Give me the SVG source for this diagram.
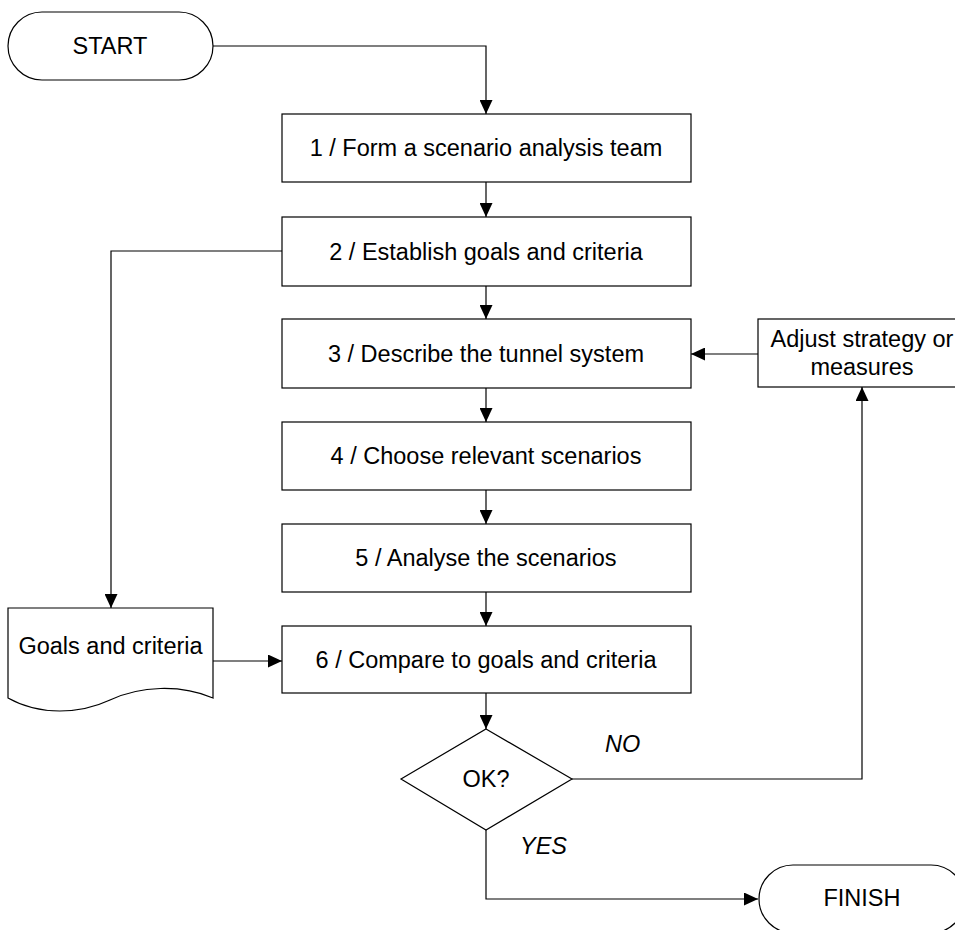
<svg xmlns="http://www.w3.org/2000/svg" width="955" height="930" viewBox="0 0 955 930">
<defs>
<style>
.s{fill:#fff;stroke:#000;stroke-width:1.2}
.c{fill:none;stroke:#000;stroke-width:1.2}
text{font-family:"Liberation Sans",Arial,sans-serif;font-size:23.5px;fill:#000;text-anchor:middle}
.i{font-style:italic;text-anchor:start}
</style>
<marker id="a" markerUnits="userSpaceOnUse" markerWidth="14" markerHeight="13" refX="14" refY="6.5" orient="auto">
<path d="M0,0 L14,6.5 L0,13 z" fill="#000"/>
</marker>
</defs>
<rect width="955" height="930" fill="#fff"/>
<g id="connectors">
<path class="c" d="M213,46 H486 V114" marker-end="url(#a)"/>
<path class="c" d="M486,182 V217" marker-end="url(#a)"/>
<path class="c" d="M486,286 V319" marker-end="url(#a)"/>
<path class="c" d="M486,388 V422" marker-end="url(#a)"/>
<path class="c" d="M486,490 V524" marker-end="url(#a)"/>
<path class="c" d="M486,592 V626" marker-end="url(#a)"/>
<path class="c" d="M486,693 V729" marker-end="url(#a)"/>
<path class="c" d="M486,830 V899 H758" marker-end="url(#a)"/>
<path class="c" d="M572,779 H862 V387" marker-end="url(#a)"/>
<path class="c" d="M758,354 H691" marker-end="url(#a)"/>
<path class="c" d="M282,251 H111 V608" marker-end="url(#a)"/>
<path class="c" d="M213,661 H282" marker-end="url(#a)"/>
<text class="i" x="605" y="752">NO</text>
<text class="i" x="520" y="854">YES</text>
</g>
<g id="start">
<rect class="s" x="8" y="12" width="205" height="68" rx="34"/>
<text x="110" y="54">START</text>
</g>
<g id="step1">
<rect class="s" x="282" y="114" width="409" height="68"/>
<text x="486" y="156">1 / Form a scenario analysis team</text>
</g>
<g id="step2">
<rect class="s" x="282" y="217" width="409" height="69"/>
<text x="486" y="259.5">2 / Establish goals and criteria</text>
</g>
<g id="step3">
<rect class="s" x="282" y="319" width="409" height="69"/>
<text x="486" y="361.5">3 / Describe the tunnel system</text>
</g>
<g id="step4">
<rect class="s" x="282" y="422" width="409" height="68"/>
<text x="486" y="464">4 / Choose relevant scenarios</text>
</g>
<g id="step5">
<rect class="s" x="282" y="524" width="409" height="68"/>
<text x="486" y="566">5 / Analyse the scenarios</text>
</g>
<g id="step6">
<rect class="s" x="282" y="626" width="409" height="67"/>
<text x="486" y="667.5">6 / Compare to goals and criteria</text>
</g>
<g id="adjust">
<rect class="s" x="758" y="319" width="210" height="68"/>
<text x="862" y="347">Adjust strategy or</text>
<text x="862" y="375">measures</text>
</g>
<g id="goals-doc">
<path class="s" d="M8,608 H213 V698 C180,684 140,686 110,700 C80,714 40,716 8,698 Z"/>
<text x="110.5" y="654">Goals and criteria</text>
</g>
<g id="decision">
<polygon class="s" points="486,729 572,779 486,830 401,779"/>
<text x="486" y="787">OK?</text>
</g>
<g id="finish">
<rect class="s" x="759" y="865" width="206" height="68" rx="34"/>
<text x="862" y="906">FINISH</text>
</g>
</svg>
